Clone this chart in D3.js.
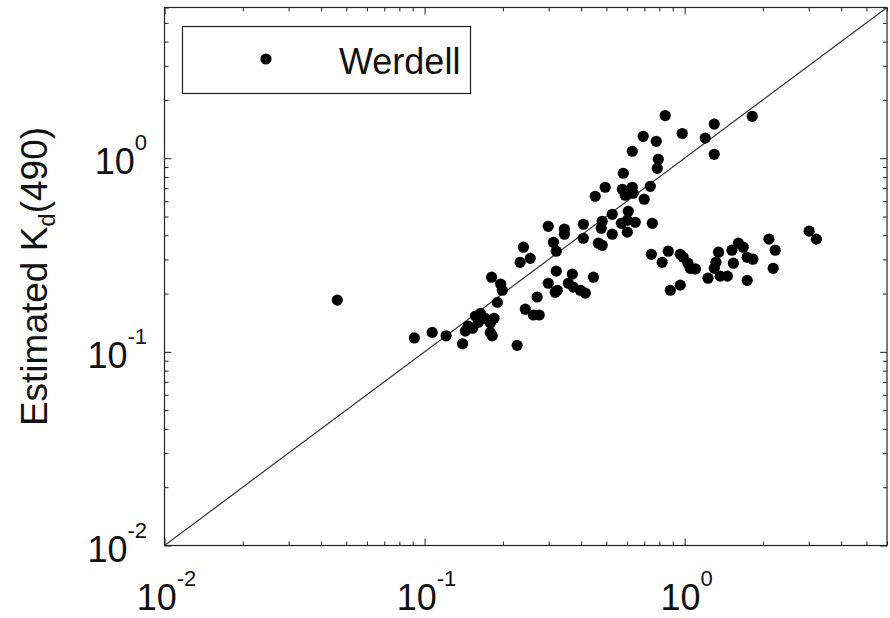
<!DOCTYPE html>
<html>
<head>
<meta charset="utf-8">
<script src="https://cdn.jsdelivr.net/npm/d3@7"></script>
<style>
  body { margin: 0; background: #fff; }
  svg { display: block; font-family: "Liberation Sans", Arial, Helvetica, sans-serif; }
</style>
</head>
<body>
<svg id="chart" width="890" height="618"></svg>
<script>
// Measured vs. estimated diffuse attenuation Kd(490), one pair per station
const measuredKd = [
  0.0462, 0.0914, 0.107, 0.121, 0.140, 0.1435, 0.153, 0.157, 0.164, 0.161,
  0.147, 0.179, 0.185, 0.179, 0.182, 0.171, 0.1905, 0.199, 0.196, 0.181,
  0.227, 0.244, 0.262, 0.276, 0.271, 0.318, 0.233, 0.240, 0.255, 0.299,
  0.313, 0.321, 0.345, 0.345, 0.408, 0.408, 0.321, 0.370, 0.446, 0.299,
  0.324, 0.357, 0.373, 0.397, 0.415, 0.466, 0.482, 0.478, 0.482, 0.527,
  0.527, 0.571, 0.602, 0.607, 0.646, 0.602, 0.751, 0.453, 0.495, 0.576,
  0.629, 0.591, 0.634, 0.738, 0.699, 0.581, 0.629, 0.792, 0.785, 0.693,
  0.778, 0.842, 0.979, 1.30, 1.20, 1.30, 1.82, 0.745, 0.865, 0.820,
  0.962, 0.988, 1.03, 1.05, 1.10, 0.881, 0.962, 1.23, 1.35, 1.32,
  1.30, 1.37, 1.46, 1.54, 1.52, 1.61, 1.68, 1.74, 1.83, 1.74,
  2.11, 2.23, 2.19, 3.01, 3.21
];
const estimatedKd = [
  0.185, 0.118, 0.126, 0.121, 0.110, 0.128, 0.1325, 0.153, 0.158, 0.142,
  0.136, 0.141, 0.149, 0.126, 0.121, 0.149, 0.180, 0.208, 0.224, 0.243,
  0.108, 0.166, 0.155, 0.155, 0.192, 0.203, 0.290, 0.347, 0.304, 0.445,
  0.368, 0.331, 0.430, 0.405, 0.456, 0.386, 0.261, 0.252, 0.243, 0.226,
  0.208, 0.226, 0.216, 0.208, 0.201, 0.364, 0.355, 0.435, 0.472, 0.513,
  0.405, 0.461, 0.478, 0.532, 0.467, 0.415, 0.461, 0.636, 0.708, 0.691,
  0.708, 0.644, 0.659, 0.716, 0.614, 0.836, 1.086, 0.987, 0.887, 1.297,
  1.222, 1.66, 1.34, 1.50, 1.27, 1.047, 1.645, 0.319, 0.331, 0.290,
  0.319, 0.308, 0.287, 0.270, 0.268, 0.208, 0.221, 0.240, 0.327, 0.290,
  0.270, 0.246, 0.246, 0.287, 0.335, 0.364, 0.347, 0.308, 0.301, 0.234,
  0.382, 0.335, 0.270, 0.420, 0.382
];

// Axis limits and decade ticks (log10 exponents)
const axisLimits = [0.01, 6];
const majorExponents = [-2, -1, 0];
const minorMultipliers = [2, 3, 4, 5, 6, 7, 8, 9];
const seriesName = "Werdell";

const svg = d3.select("#chart");
const box = { left: 164.5, right: 887, top: 7.5, bottom: 545.5 };

const x = d3.scaleLog().domain(axisLimits).range([box.left, box.right]);
const y = d3.scaleLog().domain(axisLimits).range([box.bottom, box.top]);

const majors = majorExponents.map(e => Math.pow(10, e));
const minors = [];
majorExponents.forEach(e => minorMultipliers.forEach(k => {
  const v = +(k * Math.pow(10, e)).toPrecision(6);
  if (v <= axisLimits[1]) minors.push(v);
}));

// Inward ticks on all four sides
function tickLayer(axisFn, scale, values, size, transform) {
  const g = svg.append("g").attr("transform", transform)
    .call(axisFn(scale).tickValues(values).tickSize(size).tickSizeOuter(0).tickFormat(""));
  g.select(".domain").remove();
  g.selectAll(".tick line").attr("stroke", "#222").attr("stroke-width", 1);
}
tickLayer(d3.axisBottom, x, majors, -7, `translate(0,${box.bottom})`);
tickLayer(d3.axisBottom, x, minors, -4, `translate(0,${box.bottom})`);
tickLayer(d3.axisTop, x, majors, -7, `translate(0,${box.top})`);
tickLayer(d3.axisTop, x, minors, -4, `translate(0,${box.top})`);
tickLayer(d3.axisLeft, y, majors, -7, `translate(${box.left},0)`);
tickLayer(d3.axisLeft, y, minors, -4, `translate(${box.left},0)`);
tickLayer(d3.axisRight, y, majors, -7, `translate(${box.right},0)`);
tickLayer(d3.axisRight, y, minors, -4, `translate(${box.right},0)`);

// Plot frame
svg.append("rect")
  .attr("x", box.left).attr("y", box.top)
  .attr("width", box.right - box.left).attr("height", box.bottom - box.top)
  .attr("fill", "none").attr("stroke", "#222").attr("stroke-width", 1.2);

// 1:1 reference line
svg.append("line")
  .attr("x1", x(axisLimits[0])).attr("y1", y(axisLimits[0]))
  .attr("x2", x(axisLimits[1])).attr("y2", y(axisLimits[1]))
  .attr("stroke", "#333").attr("stroke-width", 1.2);

// Power-of-ten tick labels
function powerLabel(sel, exp) {
  sel.append("tspan").text("10");
  sel.append("tspan").attr("font-size", 22).attr("dy", -24).text(String(exp));
}
majorExponents.forEach((e, i) => {
  svg.append("text")
    .attr("x", x(majors[i]) + 2).attr("y", 610)
    .attr("text-anchor", "middle").attr("font-size", 36).attr("fill", "#111")
    .call(powerLabel, e);
  svg.append("text")
    .attr("x", 147).attr("y", y(majors[i]) + 16)
    .attr("text-anchor", "end").attr("font-size", 36).attr("fill", "#111")
    .call(powerLabel, e);
});

// Y axis title
const yt = svg.append("text")
  .attr("transform", `translate(47,${(box.top + box.bottom) / 2}) rotate(-90)`)
  .attr("text-anchor", "middle").attr("font-size", 37).attr("fill", "#111");
yt.append("tspan").text("Estimated K");
yt.append("tspan").attr("font-size", 24).attr("dy", 8).text("d");
yt.append("tspan").attr("dy", -8).text("(490)");

// Data points
svg.append("g").selectAll("circle")
  .data(measuredKd.map((m, i) => [m, estimatedKd[i]]))
  .join("circle")
  .attr("cx", d => x(d[0])).attr("cy", d => y(d[1]))
  .attr("r", 5.6).attr("fill", "#000");

// Legend
const legend = svg.append("g");
legend.append("rect")
  .attr("x", 182.5).attr("y", 26.5).attr("width", 288).attr("height", 67)
  .attr("fill", "#fff").attr("stroke", "#222").attr("stroke-width", 1.2);
legend.append("circle").attr("cx", 266).attr("cy", 59).attr("r", 5.6).attr("fill", "#000");
legend.append("text").attr("x", 339).attr("y", 74)
  .attr("font-size", 36).attr("fill", "#111").text(seriesName);
</script>
</body>
</html>
